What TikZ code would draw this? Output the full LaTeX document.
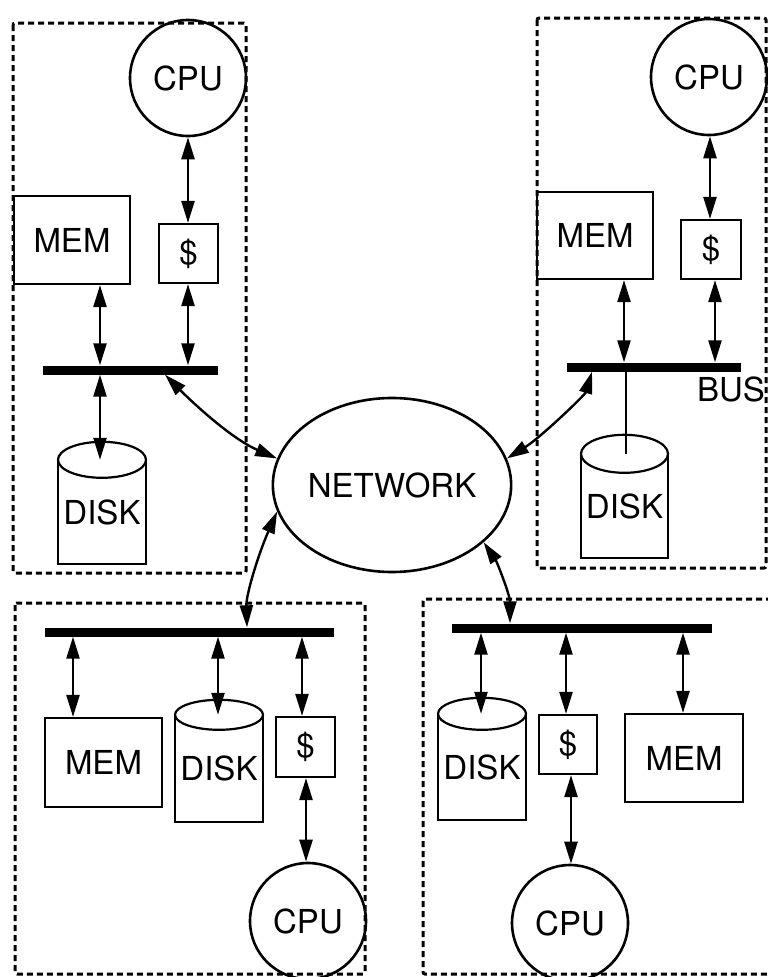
\documentclass[tikz,border=0pt]{standalone}
\usepackage{fontspec}
\setmainfont{TeX Gyre Heros}
\usetikzlibrary{arrows.meta,shapes.geometric}
\newcommand\drawdisk[3]{%
  \draw[diskline] (#1.north west) -- (#1.south west) -- (#1.south east) -- (#1.north east);
  \draw[diskline] (#1.north) ellipse [x radius=#2, y radius=#3];
}
\begin{document}
\begin{tikzpicture}[x=1pt,y=-1pt,
  every node/.style={font=\fontsize{33}{38}\selectfont},
  box/.style={draw, line width=2.2pt, rectangle, inner sep=0pt},
  cpu/.style={draw, circle, line width=2.6pt, minimum size=116pt, inner sep=0pt},
  diskbody/.style={rectangle, inner sep=0pt},
  bus/.style={fill=black, rectangle, inner sep=0pt, minimum height=9pt},
  link/.style={line width=2.4pt, {Triangle[length=22pt,width=13pt]}-{Triangle[length=22pt,width=13pt]}},
  plain/.style={line width=2.4pt},
  panel/.style={line width=3pt, dash pattern=on 6pt off 4pt, rounded corners=2pt},
  diskline/.style={line width=2.2pt},
]
\clip (0,0) rectangle (768,977);

% panels
\draw[panel] (13,23) rectangle (246,573);
\draw[panel] (537,18) rectangle (766,568);
\draw[panel] (15,603) rectangle (365,974);
\draw[panel] (423,599) rectangle (785,974);

% network
\node[draw, ellipse, line width=2.6pt, minimum width=234pt, minimum height=174pt, inner sep=0pt] (net) at (392,485) {NETWORK};

% ---------- top-left ----------
\node[cpu] (cpu1) at (188,78) {CPU};
\node[box, minimum width=116pt, minimum height=88pt] (mem1) at (72,240) {MEM};
\node[box, minimum width=59pt, minimum height=59pt] (c1) at (188.5,253.5) {\$};
\node[bus, minimum width=175pt] (bus1) at (130.5,370) {};
\node[diskbody, minimum width=88pt, minimum height=104pt] (d1) at (102,512) {DISK};
\drawdisk{d1}{44pt}{18pt}
\coordinate (t1m) at (100,0);
\coordinate (t1c) at (188,0);
\coordinate (t1n) at (165,0);
\draw[link] (cpu1.south -| t1c) -- (c1.north -| t1c);
\draw[link] (mem1.south -| t1m) -- (bus1.north -| t1m);
\draw[link] (c1.south -| t1c) -- (bus1.north -| t1c);
\draw[link] (bus1.south -| t1m) -- (d1.north -| t1m);
\draw[link] (bus1.south -| t1n) .. controls (190,400) and (230,438) .. (net.167);

% ---------- top-right ----------
\node[cpu] (cpu2) at (709,77) {CPU};
\node[box, minimum width=116pt, minimum height=87pt] (mem2) at (595,235.5) {MEM};
\node[box, minimum width=60pt, minimum height=59pt] (c2) at (711,249.5) {\$};
\node[bus, minimum width=174pt] (bus2) at (654,367) {};
\node (buslabel) at (731,389) {BUS};
\node[diskbody, minimum width=87pt, minimum height=104pt] (d2) at (624.5,506) {DISK};
\drawdisk{d2}{43.5pt}{19pt}
\coordinate (t2m) at (624,0);
\coordinate (t2c) at (715,0);
\coordinate (t2p) at (710,0);
\coordinate (t2d) at (626,0);
\coordinate (t2n) at (592,0);
\draw[link] (cpu2.south -| t2p) -- (c2.north -| t2p);
\draw[link] (mem2.south -| t2m) -- (bus2.north -| t2m);
\draw[link] (c2.south -| t2c) -- (bus2.north -| t2c);
\draw[plain] (bus2.south -| t2d) -- (d2.north -| t2d);
\draw[link] (bus2.south -| t2n) .. controls (585,395) and (540,438) .. (net.13);

% ---------- bottom-left ----------
\node[bus, minimum width=289pt] (bus3) at (189.5,632) {};
\node[box, minimum width=117pt, minimum height=89pt] (mem3) at (103.5,762.5) {MEM};
\node[diskbody, minimum width=88pt, minimum height=107pt] (d3) at (219,768.5) {DISK};
\drawdisk{d3}{44pt}{15pt}
\node[box, minimum width=59pt, minimum height=60pt] (c3) at (305.5,747) {\$};
\node[cpu] (cpu3) at (308,921) {CPU};
\coordinate (t3m) at (73,0);
\coordinate (t3d) at (218,0);
\coordinate (t3c) at (302,0);
\coordinate (t3p) at (306,0);
\coordinate (t3n) at (247,0);
\draw[link] (bus3.south -| t3m) -- (mem3.north -| t3m);
\draw[link] (bus3.south -| t3d) -- (d3.north -| t3d);
\draw[link] (bus3.south -| t3c) -- (c3.north -| t3c);
\draw[link] (c3.south -| t3p) -- (cpu3.north -| t3p);
\draw[link] (net.193) .. controls (258,555) and (246,595) .. (bus3.north -| t3n);

% ---------- bottom-right ----------
\node[bus, minimum width=260pt] (bus4) at (582,628) {};
\node[diskbody, minimum width=88pt, minimum height=106pt] (d4) at (482,767) {DISK};
\drawdisk{d4}{44pt}{16pt}
\node[box, minimum width=58pt, minimum height=59pt] (c4) at (568,744.5) {\$};
\node[cpu] (cpu4) at (570,923) {CPU};
\node[box, minimum width=118pt, minimum height=88pt] (mem4) at (684,758) {MEM};
\coordinate (t4d) at (481,0);
\coordinate (t4c) at (566,0);
\coordinate (t4p) at (571,0);
\coordinate (t4m) at (683,0);
\coordinate (t4n) at (510,0);
\draw[link] (bus4.south -| t4d) -- (d4.north -| t4d);
\draw[link] (bus4.south -| t4c) -- (c4.north -| t4c);
\draw[link] (c4.south -| t4p) -- (cpu4.north -| t4p);
\draw[link] (bus4.south -| t4m) -- (mem4.north -| t4m);
\draw[link] (net.328) .. controls (497,562) and (510,595) .. (bus4.north -| t4n);
\end{tikzpicture}
\end{document}
